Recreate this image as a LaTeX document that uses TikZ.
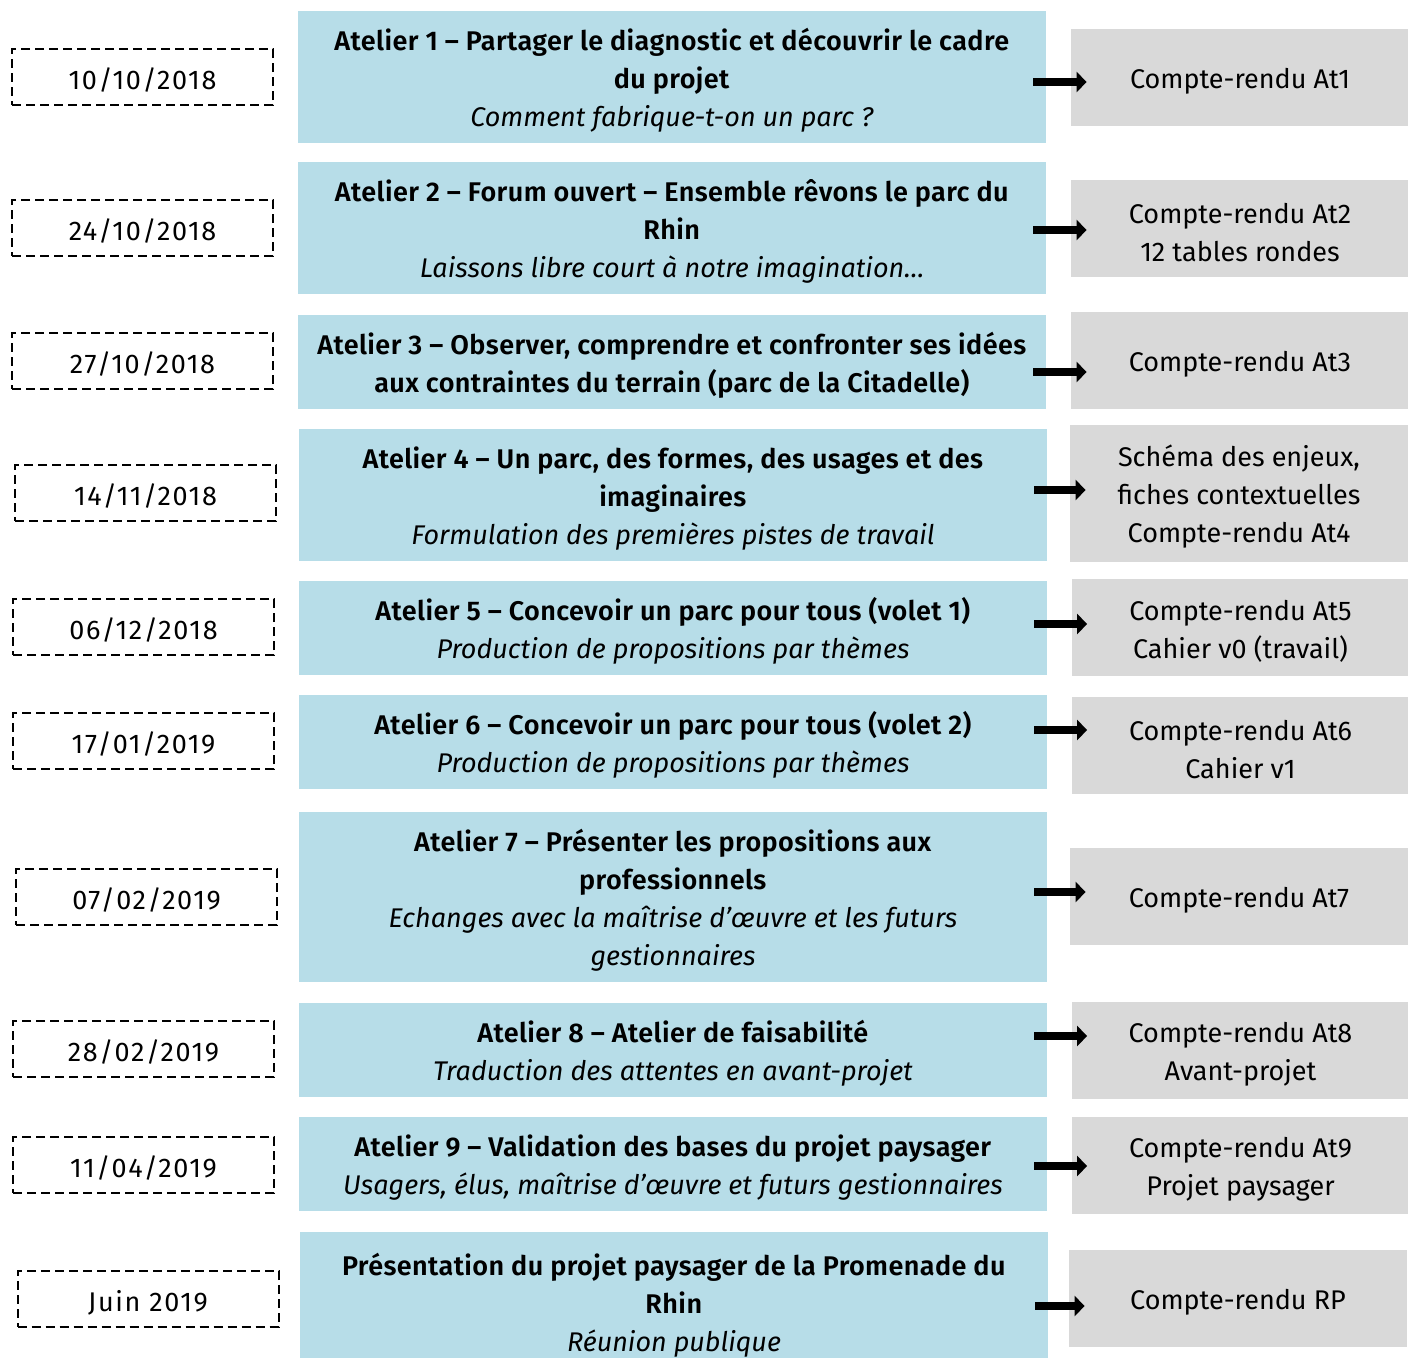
\documentclass[tikz,border=0pt]{standalone}
\usepackage{fontspec}
\setmainfont{Fira Sans}[BoldFont={Fira Sans SemiBold},BoldFeatures={LetterSpace=1.5}]
\newfontfamily\datefont{Fira Sans}[LetterSpace=6]
\usetikzlibrary{arrows.meta}

\definecolor{bleuatelier}{HTML}{B7DDE8}
\definecolor{grisrendu}{HTML}{D9D9D9}

\newcommand\hautligne{\rule{0pt}{14pt}}

\tikzset{
  datebox/.style={draw,dashed,dash pattern=on 4.5pt off 2.5pt,line width=1pt,
    minimum width=130.5pt,minimum height=28pt,inner sep=0pt,font=\fontsize{13.5}{19}\datefont},
  atelier/.style={fill=bleuatelier,minimum width=374pt,inner sep=0pt,align=center},
  rendu/.style={fill=grisrendu,minimum width=169pt,minimum height=48.5pt,inner sep=0pt,align=center},
  fleche/.style={line width=4pt,-{Triangle[length=5pt,width=10pt]},shorten >=-8pt}
}

\begin{document}
\begin{tikzpicture}[x=0.5pt,y=-0.5pt,font=\fontsize{13.5}{19}\selectfont,
  every node/.append style={execute at begin node={\hautligne}}]
\useasboundingbox (0,0) rectangle (1408,1357);
% dates
\node[datebox] (d1) at (142.5,77) {10/10/2018};
\node[datebox] (d2) at (142.5,228) {24/10/2018};
\node[datebox] (d3) at (142.5,361) {27/10/2018};
\node[datebox] (d4) at (145.5,493) {14/11/2018};
\node[datebox] (d5) at (143.5,627) {06/12/2018};
\node[datebox] (d6) at (143.5,741) {17/01/2019};
\node[datebox] (d7) at (146.5,897) {07/02/2019};
\node[datebox] (d8) at (143.5,1049) {28/02/2019};
\node[datebox] (d9) at (143.5,1165) {11/04/2019};
\node[datebox] (d10) at (148,1299) {Juin 2019};
% ateliers
\node[atelier,minimum height=66pt] (a1) at (672,77) {\hautligne\textbf{Atelier 1 – Partager le diagnostic et découvrir le cadre}\\\textbf{du projet}\\\textit{Comment fabrique-t-on un parc ?}};
\node[atelier,minimum height=66pt] (a2) at (672,228) {\hautligne\textbf{Atelier 2 – Forum ouvert – Ensemble rêvons le parc du}\\\textbf{Rhin}\\\textit{Laissons libre court à notre imagination…}};
\node[atelier,minimum height=47pt] (a3) at (672,362) {\hautligne\textbf{Atelier 3 – Observer, comprendre et confronter ses idées}\\\textbf{aux contraintes du terrain (parc de la Citadelle)}};
\node[atelier,minimum height=66pt] (a4) at (673,495) {\hautligne\textbf{Atelier 4 – Un parc, des formes, des usages et des}\\\textbf{imaginaires}\\\textit{Formulation des premières pistes de travail}};
\node[atelier,minimum height=47pt] (a5) at (673,628) {\hautligne\textbf{Atelier 5 – Concevoir un parc pour tous (volet 1)}\\\textit{Production de propositions par thèmes}};
\node[atelier,minimum height=47pt] (a6) at (673,742) {\hautligne\textbf{Atelier 6 – Concevoir un parc pour tous (volet 2)}\\\textit{Production de propositions par thèmes}};
\node[atelier,minimum height=85pt] (a7) at (673,897) {\hautligne\textbf{Atelier 7 – Présenter les propositions aux}\\\textbf{professionnels}\\\textit{Echanges avec la maîtrise d’œuvre et les futurs}\\\textit{gestionnaires}};
\node[atelier,minimum height=47pt] (a8) at (673,1050) {\hautligne\textbf{Atelier 8 – Atelier de faisabilité}\\\textit{Traduction des attentes en avant-projet}};
\node[atelier,minimum height=47pt] (a9) at (673,1164) {\hautligne\textbf{Atelier 9 – Validation des bases du projet paysager}\\\textit{Usagers, élus, maîtrise d’œuvre et futurs gestionnaires}};
\node[atelier,minimum height=70pt] (a10) at (674,1302) {\hautligne\textbf{Présentation du projet paysager de la Promenade du}\\\textbf{Rhin}\\\textit{Réunion publique}};
% comptes-rendus
\node[rendu] (g1) at (1240,77.5) {Compte-rendu At1};
\node[rendu] (g2) at (1240,228.5) {\hautligne Compte-rendu At2\\12 tables rondes};
\node[rendu] (g3) at (1240,360.5) {Compte-rendu At3};
\node[rendu,minimum height=68.5pt] (g4) at (1239,493.5) {\hautligne Schéma des enjeux,\\fiches contextuelles\\Compte-rendu At4};
\node[rendu] (g5) at (1240.5,627.5) {\hautligne Compte-rendu At5\\Cahier v0 (travail)};
\node[rendu] (g6) at (1240.5,745.5) {\hautligne Compte-rendu At6\\Cahier v1};
\node[rendu] (g7) at (1239,896.5) {Compte-rendu At7};
\node[rendu] (g8) at (1240.5,1050.5) {\hautligne Compte-rendu At8\\Avant-projet};
\node[rendu] (g9) at (1240.5,1165.5) {\hautligne Compte-rendu At9\\Projet paysager};
\node[rendu] (g10) at (1238,1298.5) {Compte-rendu RP};
% fleches
\coordinate (f1) at ([shift={(-13,5)}]a1.east);
\coordinate (f2) at ([shift={(-13,2)}]a2.east);
\coordinate (f3) at ([shift={(-13,10)}]a3.east);
\coordinate (f4) at ([shift={(-13,-5)}]a4.east);
\coordinate (f5) at ([shift={(-13,-4)}]a5.east);
\coordinate (f6) at ([shift={(-13,-12)}]a6.east);
\coordinate (f7) at ([shift={(-13,-5)}]a7.east);
\coordinate (f8) at ([shift={(-13,-14)}]a8.east);
\coordinate (f9) at ([shift={(-13,2)}]a9.east);
\coordinate (f10) at ([shift={(-13,4)}]a10.east);
\draw[fleche] (f1) -- (f1 -| g1.west);
\draw[fleche] (f2) -- (f2 -| g2.west);
\draw[fleche] (f3) -- (f3 -| g3.west);
\draw[fleche] (f4) -- (f4 -| g4.west);
\draw[fleche] (f5) -- (f5 -| g5.west);
\draw[fleche] (f6) -- (f6 -| g6.west);
\draw[fleche] (f7) -- (f7 -| g7.west);
\draw[fleche] (f8) -- (f8 -| g8.west);
\draw[fleche] (f9) -- (f9 -| g9.west);
\draw[fleche] (f10) -- (f10 -| g10.west);
\end{tikzpicture}
\end{document}
